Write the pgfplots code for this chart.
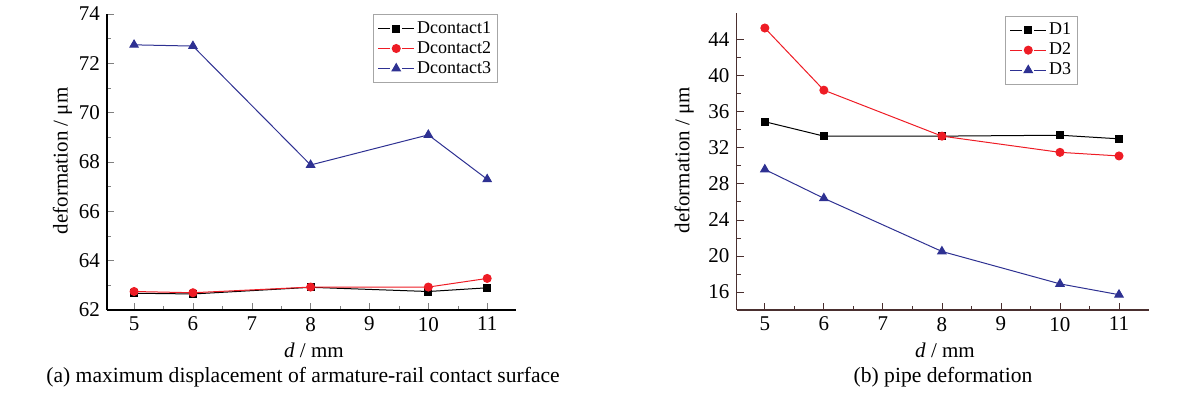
\documentclass[border=0pt]{standalone}
\usepackage{fontspec}
\setmainfont{Liberation Serif}
\usepackage{pgfplots}
\pgfplotsset{compat=1.18}
\definecolor{myred}{HTML}{EE1C25}
\definecolor{myblue}{HTML}{2E3192}
\definecolor{axisbrown}{HTML}{4A2F2F}
\pgfplotsset{
  common/.style={
    scale only axis,
    anchor=south west,
    axis x line*=bottom,
    axis y line*=left,
    axis line style={line width=0.6pt},
    tick align=inside,
    major tick length=3.5pt,
    minor tick length=2pt,
    xtick={5,6,7,8,9,10,11},
    minor x tick num=1,
    minor y tick num=1,
    tick label style={font=\fontsize{10.5}{12}\selectfont},
    label style={font=\fontsize{10.5}{12}\selectfont},
    /pgf/number format/assume math mode=true,
    xlabel={\textit{d} / mm},
    ylabel={deformation / μm},
    xlabel style={at={(axis description cs:0.506,-0.135)}, anchor=center},
    legend cell align=left,
    legend image code/.code={
      \draw (0pt,0pt) -- (6pt,0pt);
      \draw (12pt,0pt) -- (18pt,0pt);
      \draw plot coordinates {(9pt,0pt)};},
    legend style={font=\fontsize{9}{10}\selectfont, draw=gray!70, line width=0.5pt, inner sep=2pt, row sep=0pt,
      nodes={inner ysep=0.75pt, inner xsep=1.2pt, text height=6.5pt, text depth=2pt}},
    every axis plot/.append style={line width=0.5pt},
  }
}
\begin{document}
\begin{tikzpicture}
\path[use as bounding box] (0pt,0pt) rectangle (589.5pt,199pt);
\begin{axis}[common, at={(53.5pt,44pt)}, width=204.5pt, height=148pt,
  xmin=4.54, xmax=11.49,
  ymin=62, ymax=74, ytick={62,64,...,74},
  ylabel style={at={(axis description cs:-0.109,0.504)}, anchor=center},
  legend style={at={(0.956,1.0)}, anchor=north east}]
\addplot[black, mark=square*, mark size=1.75pt] coordinates {(5,62.68) (6,62.65) (8,62.92) (10,62.75) (11,62.9)};
\addlegendentry{Dcontact1}
\addplot[myred, mark=*, mark size=2pt] coordinates {(5,62.75) (6,62.7) (8,62.93) (10,62.93) (11,63.28)};
\addlegendentry{Dcontact2}
\addplot[myblue, mark=triangle*, mark size=2.4pt] coordinates {(5,72.75) (6,72.7) (8,67.88) (10,69.1) (11,67.3)};
\addlegendentry{Dcontact3}
\end{axis}
\begin{axis}[common, at={(368.25pt,44pt)}, width=206pt, height=148.65pt,
  xmin=4.52, xmax=11.5,
  ymin=14, ymax=47, ytick={16,20,...,44},
  axis line style={axisbrown, line width=0.6pt},
  every tick/.style={axisbrown},
  ylabel style={at={(axis description cs:-0.127,0.504)}, anchor=center},
  legend style={at={(0.829,0.99)}, anchor=north east}]
\addplot[black, mark=square*, mark size=1.75pt] coordinates {(5,34.9) (6,33.3) (8,33.3) (10,33.4) (11,33.0)};
\addlegendentry{D1}
\addplot[myred, mark=*, mark size=2pt] coordinates {(5,45.3) (6,38.4) (8,33.3) (10,31.5) (11,31.1)};
\addlegendentry{D2}
\addplot[myblue, mark=triangle*, mark size=2.4pt] coordinates {(5,29.6) (6,26.4) (8,20.5) (10,16.9) (11,15.7)};
\addlegendentry{D3}
\end{axis}
\node[font=\fontsize{10.8}{12}\selectfont] at (151.5pt,10.5pt) {(a) maximum displacement of armature-rail contact surface};
\node[font=\fontsize{10.8}{12}\selectfont] at (471.5pt,10.5pt) {(b) pipe deformation};
\end{tikzpicture}
\end{document}
